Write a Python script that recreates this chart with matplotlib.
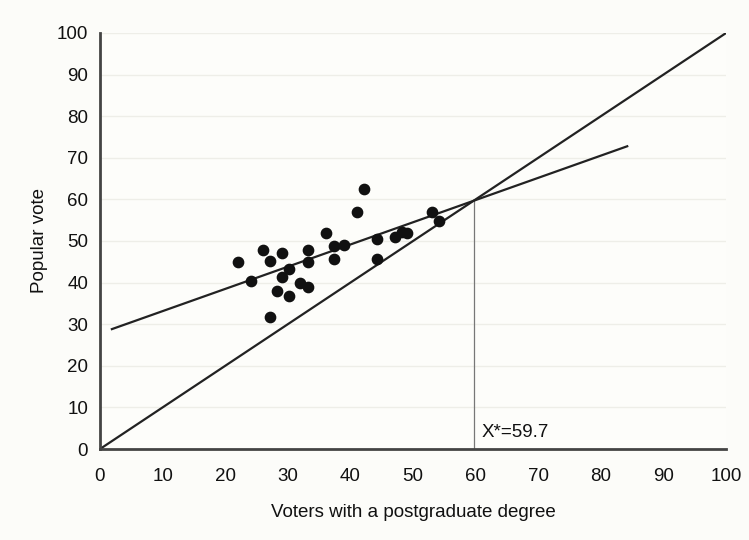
import matplotlib
matplotlib.use('Agg')
import numpy as np
import matplotlib.pyplot as plt

plt.rcParams['font.family'] = ['Liberation Sans', 'DejaVu Sans']

######################################################
# Data
grad_share = [42.2, 41.0, 53.0, 54.2, 36.1, 44.2, 47.1, 48.2, 49.1, 37.3,
              39.0, 37.3, 44.2, 33.2, 33.2, 26.1, 29.1, 27.1, 22.1, 24.1,
              30.2, 29.1, 31.9, 33.2, 28.2, 30.2, 27.1]
popular_vote = [62.5, 57.0, 57.0, 54.9, 51.9, 50.5, 51.0, 52.2, 51.8, 48.8,
                49.0, 45.6, 45.6, 47.8, 45.0, 47.8, 47.2, 45.2, 45.0, 40.5,
                43.3, 41.4, 40.0, 38.9, 38.0, 36.8, 31.8]

fit_range = [1.9, 84.2]
fit_intercept = 27.8
fit_slope = 0.534
x_star = 59.7

ticks = [0, 10, 20, 30, 40, 50, 60, 70, 80, 90, 100]

######################################################
fig = plt.figure(figsize=(7.49, 5.4), dpi=100, facecolor='#fcfcf9')
ax = fig.add_axes([0.1335, 0.1685, 0.836, 0.7705])
ax.set_facecolor('#fdfdfa')

# faint horizontal gridlines
for t in ticks[1:]:
    ax.axhline(t, color='#eeeee8', lw=1, zorder=0)

# 45 degree line
ax.plot([0, 100], [0, 100], color='#222222', lw=1.6, zorder=2)

# fitted line
fx = np.array(fit_range)
ax.plot(fx, fit_intercept + fit_slope * fx, color='#222222', lw=1.6, zorder=2)

# vertical marker at the crossing
ax.plot([x_star, x_star], [0, x_star], color='#777777', lw=0.9, zorder=1)
ax.text(x_star + 1.2, 2.8, 'X*=%.1f' % x_star, fontsize=13.5, color='#111111')

ax.scatter(grad_share, popular_vote, s=55, color='#111111', zorder=3)

ax.set_xlim(0, 100)
ax.set_ylim(0, 100)
ax.set_xticks(ticks)
ax.set_yticks(ticks)
ax.tick_params(length=0, labelsize=13.5, labelcolor='#111111')
ax.tick_params(axis='x', pad=14)
ax.tick_params(axis='y', pad=8.5)

for side in ['top', 'right']:
    ax.spines[side].set_visible(False)
for side in ['left', 'bottom']:
    ax.spines[side].set_color('#444444')
    ax.spines[side].set_linewidth(2)

ax.set_xlabel('Voters with a postgraduate degree', fontsize=13.5, labelpad=13,
              color='#111111')
ax.set_ylabel('Popular vote', fontsize=13.5, labelpad=6, color='#111111')

fig.savefig('out.png', dpi=100, facecolor=fig.get_facecolor())
